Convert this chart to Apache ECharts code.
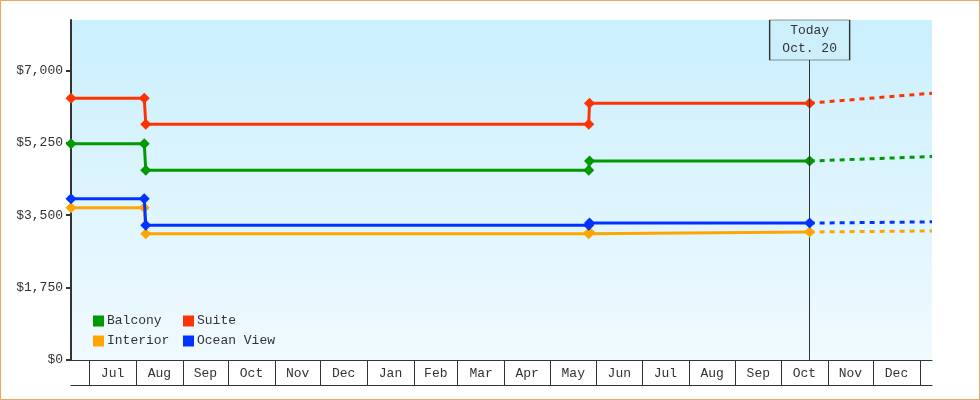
<!DOCTYPE html>
<html><head><meta charset="utf-8">
<script src="https://cdn.jsdelivr.net/npm/echarts@6/dist/echarts.min.js"></script>
<style>
html,body{margin:0;padding:0;background:#fff}
#wrap{position:relative;width:980px;height:400px}
#c{position:absolute;left:0;top:0;width:980px;height:400px}
#frame{position:absolute;left:0;top:0;width:980px;height:400px;box-sizing:border-box;border:1px solid #e8a860;pointer-events:none}
</style>
</head><body>
<div id="wrap"><div id="c"></div><div id="frame"></div></div>
<script>
// ---- data ----
const seriesNames = ['Balcony', 'Suite', 'Interior', 'Ocean View'];
const historyDates = ['2023-06-19', '2023-08-06 12:00', '2023-08-07 12:00', '2024-05-26 18:00', '2024-05-27 06:00', '2024-10-20'];
const balcony   = [5230, 5230, 4590, 4590, 4810, 4810];
const suite     = [6330, 6330, 5700, 5700, 6210, 6210];
const interior  = [3680, 3680, 3050, 3050, 3095, 3095];
const oceanView = [3900, 3900, 3260, 3260, 3310, 3310];
const forecastDates = ['2024-10-20', '2025-01-09'];
const balconyForecast   = [4810, 4920];
const suiteForecast     = [6210, 6450];
const interiorForecast  = [3095, 3120];
const oceanViewForecast = [3310, 3340];
const xRange = ['2023-06-19', '2025-01-09'];
const monthStarts = ['2023-07-01','2023-08-01','2023-09-01','2023-10-01','2023-11-01','2023-12-01',
  '2024-01-01','2024-02-01','2024-03-01','2024-04-01','2024-05-01','2024-06-01','2024-07-01',
  '2024-08-01','2024-09-01','2024-10-01','2024-11-01','2024-12-01','2025-01-01'];
const monthLabels = ['Jul','Aug','Sep','Oct','Nov','Dec','Jan','Feb','Mar','Apr','May','Jun','Jul','Aug','Sep','Oct','Nov','Dec'];
const yTicks = [0, 1750, 3500, 5250, 7000];
const yMax = 8220;
const todayDate = '2024-10-20';
const todayLabel = 'Today\nOct. 20';

// ---- styles ----
const colors = ['#009900', '#ff3300', '#ffa500', '#0033ff'];
const FONT = '"Liberation Mono", "DejaVu Sans Mono", monospace';
const TXT = '#333';

function ts(s) {
  const m = s.match(/^(\d+)-(\d+)-(\d+)(?: (\d+):(\d+))?$/);
  return Date.UTC(+m[1], +m[2] - 1, +m[3], m[4] ? +m[4] : 0, m[5] ? +m[5] : 0);
}
const histSeries = [balcony, suite, interior, oceanView];
const fcSeries = [balconyForecast, suiteForecast, interiorForecast, oceanViewForecast];
const tickTs = monthStarts.map(ts);
const midTs = monthLabels.map((_, i) => (tickTs[i] + tickTs[i + 1]) / 2);
const labelMap = new Map(midTs.map((v, i) => [Math.round(v), monthLabels[i]]));

const series = [];
seriesNames.forEach((name, i) => {
  series.push({
    name, type: 'line', z: 3 + i,
    data: historyDates.map((d, k) => [ts(d), histSeries[i][k]]),
    symbol: 'diamond', symbolSize: 11, showSymbol: true,
    lineStyle: { width: 3, color: colors[i] },
    itemStyle: { color: colors[i] },
    emphasis: { disabled: true }
  });
  series.push({
    name, type: 'line', z: 3 + i,
    data: forecastDates.map((d, k) => [ts(d), fcSeries[i][k]]),
    symbol: 'none', showSymbol: false,
    lineStyle: { width: 3, color: colors[i], type: [5, 5] },
    itemStyle: { color: colors[i] },
    emphasis: { disabled: true }
  });
});
series.push({
  type: 'line', z: 1, data: [], symbol: 'none', silent: true,
  markLine: {
    silent: true, symbol: 'none', animation: false,
    label: { show: false },
    lineStyle: { color: '#333', width: 1, type: 'solid' },
    data: [{ xAxis: ts(todayDate) }]
  }
});
series.push({
  type: 'line', z: 20, data: [], symbol: 'none', silent: true,
  markPoint: {
    silent: true, animation: false,
    symbol: 'rect', symbolSize: [80, 40], symbolOffset: [0, 20],
    itemStyle: { color: '#cdeffc', borderColor: '#333', borderWidth: 1 },
    label: { show: true, position: 'inside', formatter: todayLabel, color: TXT,
      fontFamily: FONT, fontSize: 13, lineHeight: 18 },
    data: [{ coord: [ts(todayDate), yMax] }]
  }
});

const legendBase = {
  orient: 'vertical', top: 314, itemWidth: 11, itemHeight: 11, itemGap: 6, padding: 0,
  icon: 'rect', selectedMode: false,
  textStyle: { fontFamily: FONT, fontSize: 13, color: TXT, lineHeight: 14, padding: [0, 0, 0, -2] }
};

const chart = echarts.init(document.getElementById('c'), null, { renderer: 'canvas' });
chart.setOption({
  animation: false,
  backgroundColor: '#fff',
  grid: {
    left: 71, right: 48, top: 20, bottom: 40, show: true, borderWidth: 0,
    backgroundColor: new echarts.graphic.LinearGradient(0, 0, 0, 1, [
      { offset: 0, color: '#caeffd' }, { offset: 1, color: '#f0faff' }])
  },
  legend: [
    Object.assign({}, legendBase, { left: 93, data: ['Balcony', 'Interior'] }),
    Object.assign({}, legendBase, { left: 183, data: ['Suite', 'Ocean View'] })
  ],
  xAxis: [{
    type: 'value', min: ts(xRange[0]), max: ts(xRange[1]),
    axisLine: { show: true, onZero: false, lineStyle: { color: '#333', width: 1 } },
    axisTick: { show: true, customValues: tickTs, length: 25, lineStyle: { color: '#333', width: 1 } },
    axisLabel: {
      show: true, customValues: midTs, margin: 7, color: TXT, fontFamily: FONT, fontSize: 13,
      formatter: (v) => labelMap.get(Math.round(v)) || ''
    },
    splitLine: { show: false }
  }, {
    type: 'value', min: ts(xRange[0]), max: ts(xRange[1]), position: 'bottom', offset: 25,
    axisLine: { show: true, onZero: false, lineStyle: { color: '#333', width: 1 } },
    axisTick: { show: false }, axisLabel: { show: false }, splitLine: { show: false }
  }],
  yAxis: {
    type: 'value', min: 0, max: yMax,
    axisLine: { show: true, lineStyle: { color: '#333', width: 2 } },
    axisTick: { show: true, customValues: yTicks, length: 5, lineStyle: { color: '#333', width: 2 } },
    axisLabel: {
      customValues: yTicks, margin: 8, color: TXT, fontFamily: FONT, fontSize: 13,
      formatter: (v) => '$' + String(v).replace(/\B(?=(\d{3})+(?!\d))/g, ',')
    },
    splitLine: { show: false }
  },
  series
});
</script>
</body></html>
